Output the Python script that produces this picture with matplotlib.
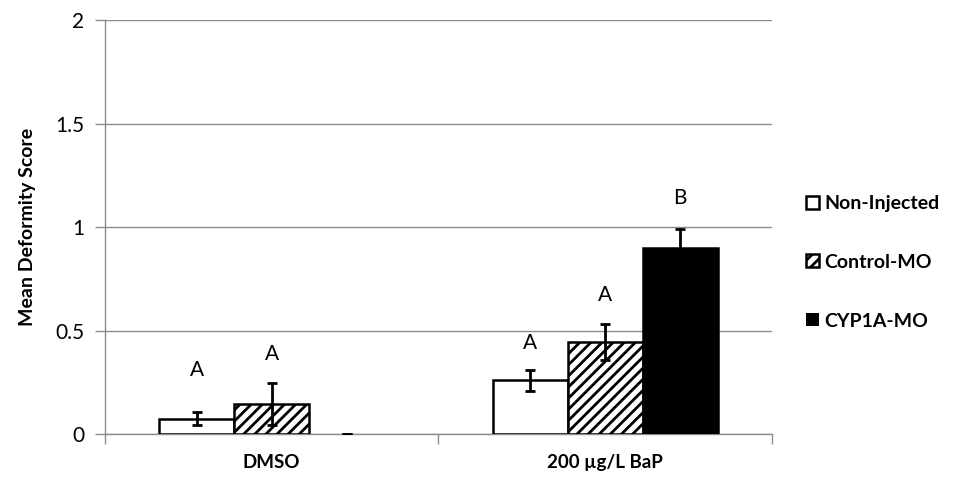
import numpy as np
import matplotlib.pyplot as plt

plt.rcParams['font.family'] = ['Lato', 'DejaVu Sans']
plt.rcParams['hatch.linewidth'] = 2.0

groups = ['DMSO', '200 µg/L BaP']
series = ['Non-Injected', 'Control-MO', 'CYP1A-MO']
means = {
    'Non-Injected': [0.075, 0.26],
    'Control-MO': [0.145, 0.444],
    'CYP1A-MO': [0.0, 0.90],
}
errors = {
    'Non-Injected': [0.03, 0.05],
    'Control-MO': [0.10, 0.088],
    'CYP1A-MO': [0.0, 0.09],
}
letters = {
    'Non-Injected': ['A', 'A'],
    'Control-MO': ['A', 'A'],
    'CYP1A-MO': ['', 'B'],
}
letter_y = {
    'Non-Injected': [0.31, 0.44],
    'Control-MO': [0.386, 0.671],
    'CYP1A-MO': [0, 1.14],
}

fills = {'Non-Injected': 'white', 'Control-MO': 'white', 'CYP1A-MO': 'black'}
hatches = {'Non-Injected': None, 'Control-MO': '///', 'CYP1A-MO': None}

fig = plt.figure(figsize=(9.72, 4.9), dpi=100)
ax = fig.add_axes([0.108, 0.114, 0.686, 0.845])

x = np.arange(len(groups))
width = 0.225
for i, s in enumerate(series):
    pos = x + (i - 1) * width
    # empty bars get no outline, only the error cap shows
    lws = [1.8 if m > 0 else 0 for m in means[s]]
    ax.bar(pos, means[s], width, color=fills[s], edgecolor='black',
           linewidth=lws, hatch=hatches[s], label=s, zorder=3)
    ax.errorbar(pos, means[s], yerr=errors[s], fmt='none', ecolor='black',
                elinewidth=2, capsize=3.5, capthick=2, zorder=4)
    for p, t, ly in zip(pos, letters[s], letter_y[s]):
        if t:
            ax.text(p, ly, t, ha='center', va='center', fontsize=15)

ax.set_xlim(-0.5, 1.5)
ax.set_ylim(0, 2)
ax.set_yticks([0, 0.5, 1, 1.5, 2])
ax.set_yticklabels(['0', '0.5', '1', '1.5', '2'])
ax.grid(axis='y', color='#8c8c8c', linewidth=1, zorder=0)
ax.set_axisbelow(True)

ax.set_xticks(x)
ax.set_xticklabels(groups, fontweight='bold', fontsize=13.5)
ax.set_xticks([-0.5, 0.5, 1.5], minor=True)
ax.tick_params(axis='x', which='major', length=0, pad=14)
ax.tick_params(axis='x', which='minor', length=7, color='#8c8c8c', width=1)
ax.tick_params(axis='y', length=7, color='#8c8c8c', width=1, labelsize=15, pad=8)

for side in ['top', 'right']:
    ax.spines[side].set_visible(False)
for side in ['left', 'bottom']:
    ax.spines[side].set_color('#8c8c8c')
    ax.spines[side].set_linewidth(1)

ax.set_ylabel('Mean Deformity Score', fontweight='bold', fontsize=14, labelpad=14)

ax.legend(loc='center left', bbox_to_anchor=(1.025, 0.415), frameon=False,
          handlelength=0.65, handleheight=0.65, handletextpad=0.3,
          labelspacing=2.15, prop={'weight': 'bold', 'size': 14})

fig.savefig('out.png', dpi=100)
